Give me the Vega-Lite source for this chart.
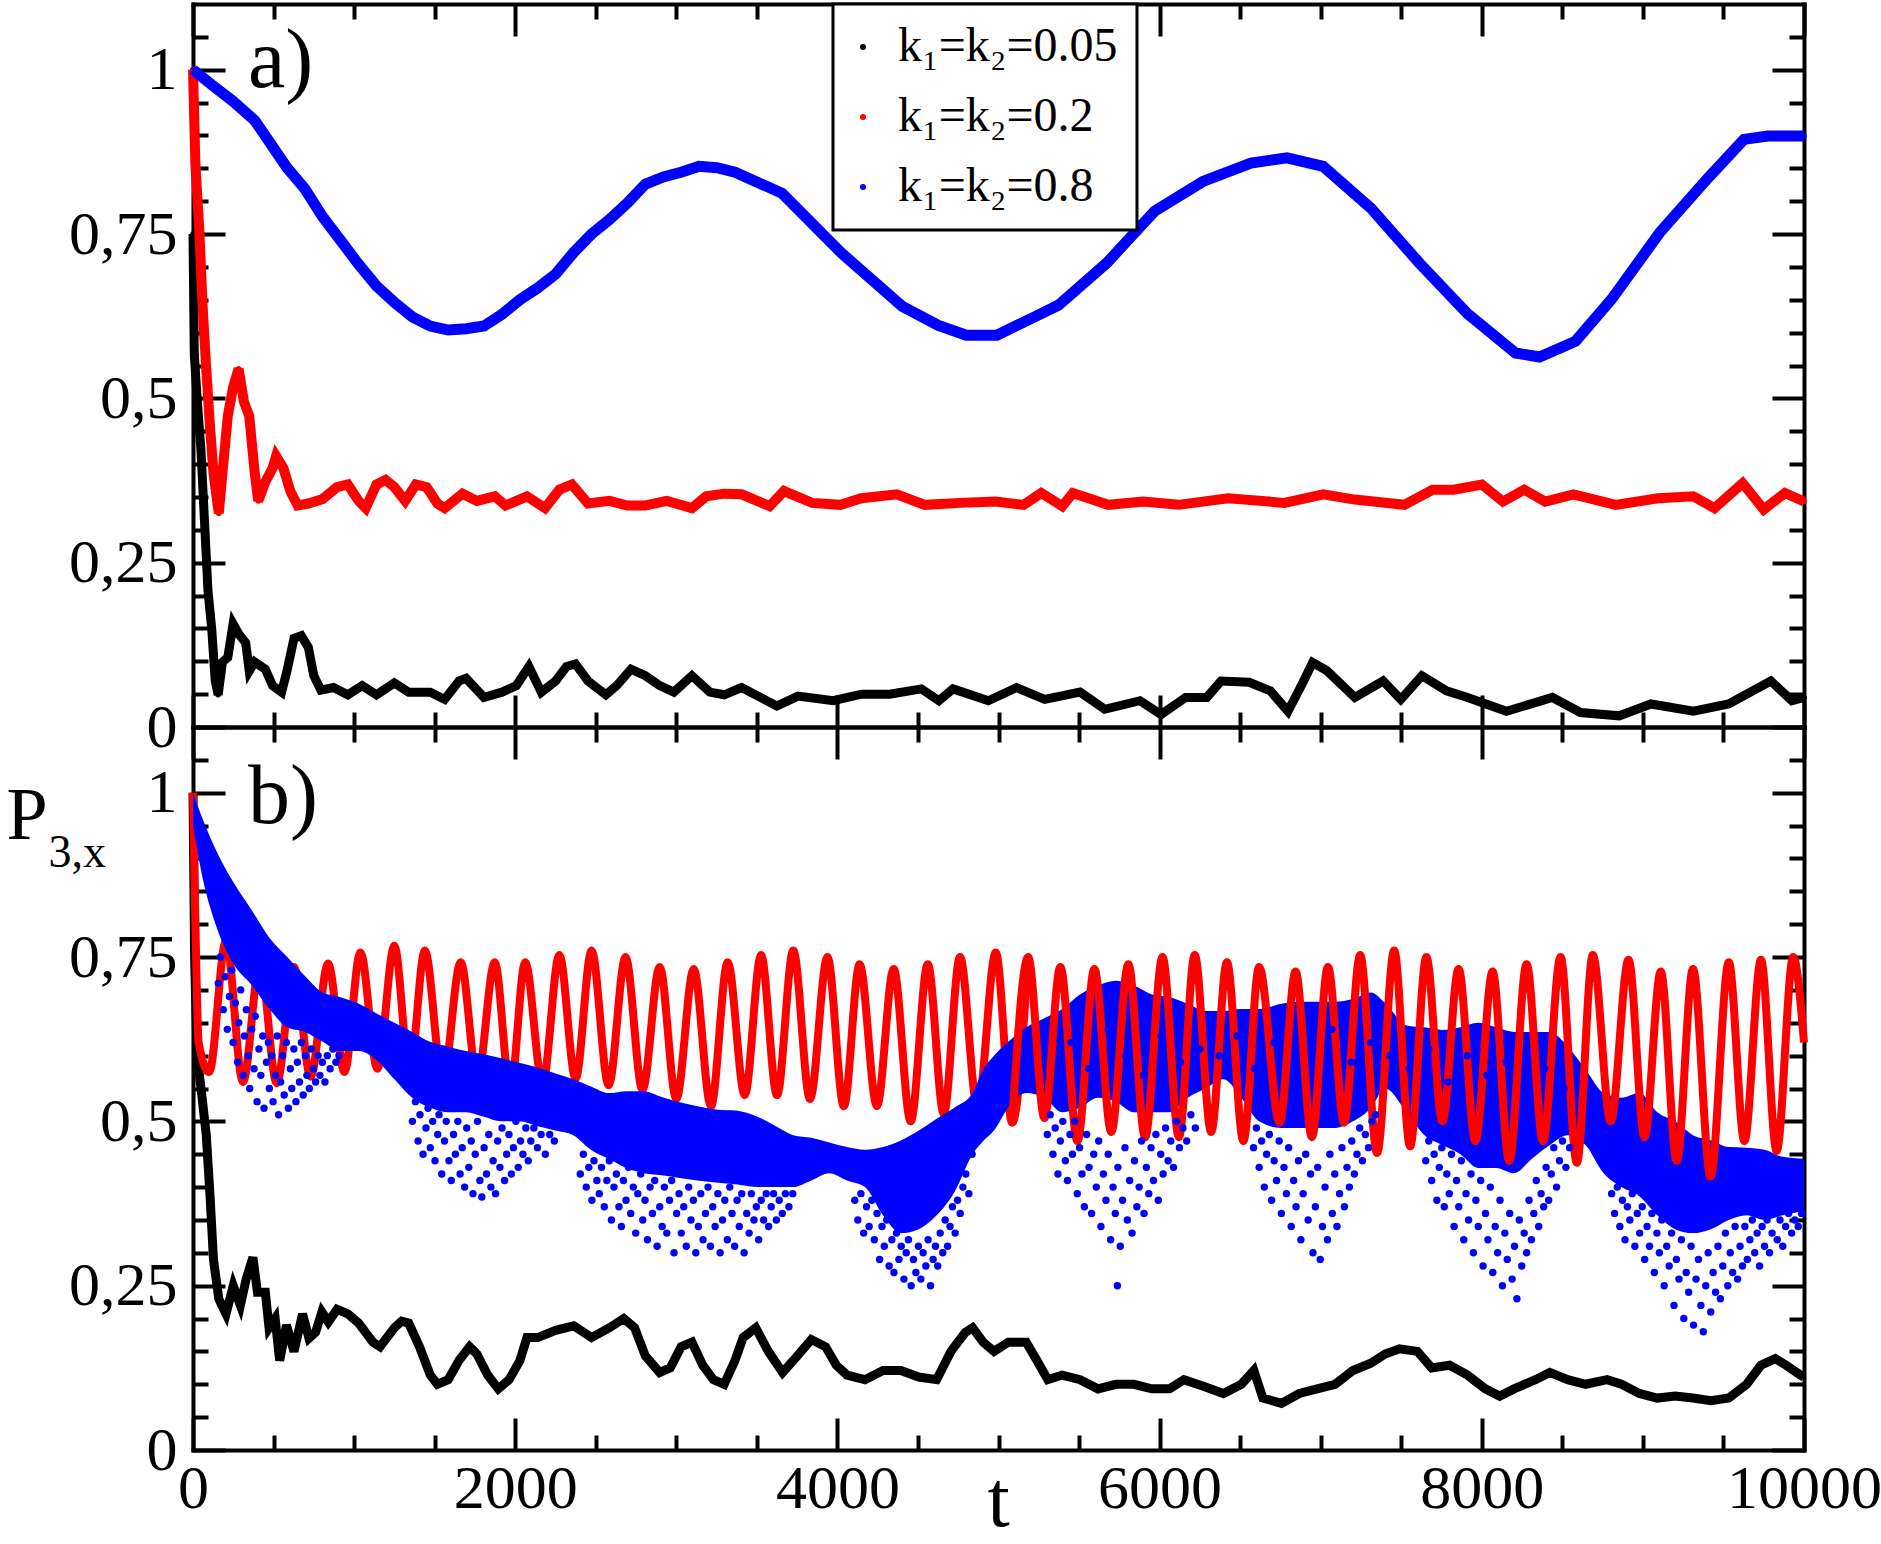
{
  "$schema": "https://vega.github.io/schema/vega-lite/v6.json",
  "padding": {"left": 6, "top": 2, "right": 5, "bottom": 0},
  "spacing": 0,
  "bounds": "flush",
  "resolve": {"scale": {"color": "independent"}},
  "config": {
    "font": "Liberation Serif",
    "view": {"stroke": null},
    "axis": {
      "domainColor": "#000000", "domainWidth": 4, "domainCap": "square",
      "tickColor": "#000000", "tickWidth": 4,
      "labelFont": "Liberation Serif", "labelFontSize": 62, "labelColor": "#000000",
      "titleFont": "Liberation Serif", "titleColor": "#000000", "titleFontWeight": "normal",
      "grid": false, "labelOverlap": false, "labelFlush": false, "labelBound": false, "zindex": 1
    },
    "legend": {"strokeWidth": 3}
  },
  "datasets": {
    "a": [
      {"t":0,"y":0.75,"s":"0.05"},{"t":8,"y":0.567,"s":"0.05"},{"t":27,"y":0.495,"s":"0.05"},{"t":49,"y":0.423,"s":"0.05"},{"t":71,"y":0.315,"s":"0.05"},{"t":93,"y":0.207,"s":"0.05"},{"t":116,"y":0.15,"s":"0.05"},{"t":138,"y":0.07,"s":"0.05"},{"t":156,"y":0.049,"s":"0.05"},{"t":183,"y":0.099,"s":"0.05"},{"t":216,"y":0.106,"s":"0.05"},{"t":249,"y":0.157,"s":"0.05"},{"t":283,"y":0.142,"s":"0.05"},{"t":327,"y":0.128,"s":"0.05"},{"t":349,"y":0.085,"s":"0.05"},{"t":383,"y":0.099,"s":"0.05"},{"t":449,"y":0.088,"s":"0.05"},{"t":494,"y":0.063,"s":"0.05"},{"t":550,"y":0.053,"s":"0.05"},{"t":583,"y":0.085,"s":"0.05"},{"t":627,"y":0.135,"s":"0.05"},{"t":672,"y":0.139,"s":"0.05"},{"t":716,"y":0.121,"s":"0.05"},{"t":750,"y":0.078,"s":"0.05"},{"t":794,"y":0.056,"s":"0.05"},{"t":872,"y":0.06,"s":"0.05"},{"t":961,"y":0.049,"s":"0.05"},{"t":1050,"y":0.063,"s":"0.05"},{"t":1139,"y":0.049,"s":"0.05"},{"t":1250,"y":0.067,"s":"0.05"},{"t":1339,"y":0.053,"s":"0.05"},{"t":1473,"y":0.053,"s":"0.05"},{"t":1562,"y":0.042,"s":"0.05"},{"t":1651,"y":0.07,"s":"0.05"},{"t":1695,"y":0.074,"s":"0.05"},{"t":1806,"y":0.045,"s":"0.05"},{"t":1918,"y":0.053,"s":"0.05"},{"t":2007,"y":0.063,"s":"0.05"},{"t":2085,"y":0.092,"s":"0.05"},{"t":2162,"y":0.053,"s":"0.05"},{"t":2251,"y":0.07,"s":"0.05"},{"t":2318,"y":0.092,"s":"0.05"},{"t":2374,"y":0.096,"s":"0.05"},{"t":2452,"y":0.07,"s":"0.05"},{"t":2563,"y":0.049,"s":"0.05"},{"t":2630,"y":0.063,"s":"0.05"},{"t":2719,"y":0.088,"s":"0.05"},{"t":2808,"y":0.078,"s":"0.05"},{"t":2897,"y":0.063,"s":"0.05"},{"t":2985,"y":0.053,"s":"0.05"},{"t":3097,"y":0.078,"s":"0.05"},{"t":3208,"y":0.053,"s":"0.05"},{"t":3297,"y":0.049,"s":"0.05"},{"t":3405,"y":0.06,"s":"0.05"},{"t":3624,"y":0.032,"s":"0.05"},{"t":3755,"y":0.047,"s":"0.05"},{"t":3974,"y":0.04,"s":"0.05"},{"t":4149,"y":0.05,"s":"0.05"},{"t":4324,"y":0.05,"s":"0.05"},{"t":4521,"y":0.058,"s":"0.05"},{"t":4630,"y":0.04,"s":"0.05"},{"t":4718,"y":0.058,"s":"0.05"},{"t":4937,"y":0.04,"s":"0.05"},{"t":5112,"y":0.06,"s":"0.05"},{"t":5287,"y":0.042,"s":"0.05"},{"t":5506,"y":0.053,"s":"0.05"},{"t":5659,"y":0.027,"s":"0.05"},{"t":5878,"y":0.04,"s":"0.05"},{"t":6009,"y":0.019,"s":"0.05"},{"t":6162,"y":0.045,"s":"0.05"},{"t":6293,"y":0.045,"s":"0.05"},{"t":6381,"y":0.07,"s":"0.05"},{"t":6556,"y":0.068,"s":"0.05"},{"t":6687,"y":0.055,"s":"0.05"},{"t":6797,"y":0.024,"s":"0.05"},{"t":6884,"y":0.065,"s":"0.05"},{"t":6950,"y":0.098,"s":"0.05"},{"t":7037,"y":0.086,"s":"0.05"},{"t":7212,"y":0.045,"s":"0.05"},{"t":7387,"y":0.07,"s":"0.05"},{"t":7497,"y":0.042,"s":"0.05"},{"t":7628,"y":0.078,"s":"0.05"},{"t":7781,"y":0.055,"s":"0.05"},{"t":7912,"y":0.045,"s":"0.05"},{"t":8153,"y":0.024,"s":"0.05"},{"t":8438,"y":0.045,"s":"0.05"},{"t":8613,"y":0.022,"s":"0.05"},{"t":8853,"y":0.017,"s":"0.05"},{"t":9050,"y":0.035,"s":"0.05"},{"t":9313,"y":0.024,"s":"0.05"},{"t":9532,"y":0.035,"s":"0.05"},{"t":9794,"y":0.07,"s":"0.05"},{"t":9925,"y":0.04,"s":"0.05"},{"t":10000,"y":0.045,"s":"0.05"},
      {"t":0,"y":1.0,"s":"0.2"},{"t":15,"y":0.855,"s":"0.2"},{"t":38,"y":0.761,"s":"0.2"},{"t":60,"y":0.639,"s":"0.2"},{"t":82,"y":0.545,"s":"0.2"},{"t":105,"y":0.459,"s":"0.2"},{"t":127,"y":0.387,"s":"0.2"},{"t":160,"y":0.325,"s":"0.2"},{"t":183,"y":0.387,"s":"0.2"},{"t":216,"y":0.473,"s":"0.2"},{"t":249,"y":0.517,"s":"0.2"},{"t":283,"y":0.545,"s":"0.2"},{"t":316,"y":0.495,"s":"0.2"},{"t":349,"y":0.473,"s":"0.2"},{"t":383,"y":0.387,"s":"0.2"},{"t":405,"y":0.344,"s":"0.2"},{"t":449,"y":0.373,"s":"0.2"},{"t":494,"y":0.394,"s":"0.2"},{"t":516,"y":0.412,"s":"0.2"},{"t":561,"y":0.394,"s":"0.2"},{"t":605,"y":0.358,"s":"0.2"},{"t":650,"y":0.337,"s":"0.2"},{"t":716,"y":0.34,"s":"0.2"},{"t":805,"y":0.347,"s":"0.2"},{"t":894,"y":0.365,"s":"0.2"},{"t":961,"y":0.369,"s":"0.2"},{"t":1028,"y":0.344,"s":"0.2"},{"t":1072,"y":0.333,"s":"0.2"},{"t":1139,"y":0.369,"s":"0.2"},{"t":1195,"y":0.376,"s":"0.2"},{"t":1250,"y":0.365,"s":"0.2"},{"t":1317,"y":0.344,"s":"0.2"},{"t":1383,"y":0.369,"s":"0.2"},{"t":1450,"y":0.365,"s":"0.2"},{"t":1517,"y":0.34,"s":"0.2"},{"t":1562,"y":0.333,"s":"0.2"},{"t":1673,"y":0.355,"s":"0.2"},{"t":1762,"y":0.344,"s":"0.2"},{"t":1873,"y":0.351,"s":"0.2"},{"t":1940,"y":0.337,"s":"0.2"},{"t":2073,"y":0.351,"s":"0.2"},{"t":2185,"y":0.333,"s":"0.2"},{"t":2274,"y":0.361,"s":"0.2"},{"t":2352,"y":0.369,"s":"0.2"},{"t":2452,"y":0.34,"s":"0.2"},{"t":2585,"y":0.344,"s":"0.2"},{"t":2696,"y":0.337,"s":"0.2"},{"t":2808,"y":0.337,"s":"0.2"},{"t":2941,"y":0.344,"s":"0.2"},{"t":3097,"y":0.333,"s":"0.2"},{"t":3186,"y":0.351,"s":"0.2"},{"t":3297,"y":0.355,"s":"0.2"},{"t":3405,"y":0.354,"s":"0.2"},{"t":3580,"y":0.336,"s":"0.2"},{"t":3668,"y":0.359,"s":"0.2"},{"t":3843,"y":0.341,"s":"0.2"},{"t":4018,"y":0.338,"s":"0.2"},{"t":4149,"y":0.348,"s":"0.2"},{"t":4368,"y":0.354,"s":"0.2"},{"t":4543,"y":0.338,"s":"0.2"},{"t":4762,"y":0.341,"s":"0.2"},{"t":4981,"y":0.343,"s":"0.2"},{"t":5156,"y":0.338,"s":"0.2"},{"t":5265,"y":0.356,"s":"0.2"},{"t":5396,"y":0.336,"s":"0.2"},{"t":5462,"y":0.356,"s":"0.2"},{"t":5681,"y":0.338,"s":"0.2"},{"t":5900,"y":0.343,"s":"0.2"},{"t":6118,"y":0.338,"s":"0.2"},{"t":6425,"y":0.348,"s":"0.2"},{"t":6775,"y":0.341,"s":"0.2"},{"t":7015,"y":0.354,"s":"0.2"},{"t":7212,"y":0.346,"s":"0.2"},{"t":7519,"y":0.338,"s":"0.2"},{"t":7694,"y":0.361,"s":"0.2"},{"t":7825,"y":0.361,"s":"0.2"},{"t":8000,"y":0.369,"s":"0.2"},{"t":8131,"y":0.343,"s":"0.2"},{"t":8263,"y":0.361,"s":"0.2"},{"t":8394,"y":0.343,"s":"0.2"},{"t":8569,"y":0.354,"s":"0.2"},{"t":8831,"y":0.338,"s":"0.2"},{"t":9094,"y":0.348,"s":"0.2"},{"t":9313,"y":0.351,"s":"0.2"},{"t":9444,"y":0.333,"s":"0.2"},{"t":9619,"y":0.371,"s":"0.2"},{"t":9750,"y":0.331,"s":"0.2"},{"t":9882,"y":0.356,"s":"0.2"},{"t":10000,"y":0.343,"s":"0.2"},
      {"t":0,"y":1.0,"s":"0.8"},{"t":138,"y":0.973,"s":"0.8"},{"t":249,"y":0.952,"s":"0.8"},{"t":383,"y":0.923,"s":"0.8"},{"t":472,"y":0.891,"s":"0.8"},{"t":583,"y":0.851,"s":"0.8"},{"t":694,"y":0.819,"s":"0.8"},{"t":805,"y":0.776,"s":"0.8"},{"t":917,"y":0.74,"s":"0.8"},{"t":1028,"y":0.704,"s":"0.8"},{"t":1139,"y":0.671,"s":"0.8"},{"t":1250,"y":0.646,"s":"0.8"},{"t":1361,"y":0.624,"s":"0.8"},{"t":1473,"y":0.61,"s":"0.8"},{"t":1584,"y":0.604,"s":"0.8"},{"t":1695,"y":0.606,"s":"0.8"},{"t":1806,"y":0.61,"s":"0.8"},{"t":1918,"y":0.628,"s":"0.8"},{"t":2029,"y":0.65,"s":"0.8"},{"t":2140,"y":0.668,"s":"0.8"},{"t":2251,"y":0.689,"s":"0.8"},{"t":2363,"y":0.722,"s":"0.8"},{"t":2474,"y":0.75,"s":"0.8"},{"t":2585,"y":0.772,"s":"0.8"},{"t":2696,"y":0.797,"s":"0.8"},{"t":2808,"y":0.826,"s":"0.8"},{"t":2919,"y":0.837,"s":"0.8"},{"t":3030,"y":0.844,"s":"0.8"},{"t":3141,"y":0.853,"s":"0.8"},{"t":3252,"y":0.851,"s":"0.8"},{"t":3364,"y":0.844,"s":"0.8"},{"t":3657,"y":0.812,"s":"0.8"},{"t":4030,"y":0.72,"s":"0.8"},{"t":4403,"y":0.64,"s":"0.8"},{"t":4627,"y":0.611,"s":"0.8"},{"t":4800,"y":0.596,"s":"0.8"},{"t":4990,"y":0.596,"s":"0.8"},{"t":5224,"y":0.624,"s":"0.8"},{"t":5373,"y":0.642,"s":"0.8"},{"t":5672,"y":0.706,"s":"0.8"},{"t":5970,"y":0.785,"s":"0.8"},{"t":6269,"y":0.83,"s":"0.8"},{"t":6567,"y":0.858,"s":"0.8"},{"t":6791,"y":0.866,"s":"0.8"},{"t":7015,"y":0.853,"s":"0.8"},{"t":7313,"y":0.789,"s":"0.8"},{"t":7612,"y":0.706,"s":"0.8"},{"t":7910,"y":0.629,"s":"0.8"},{"t":8209,"y":0.569,"s":"0.8"},{"t":8358,"y":0.563,"s":"0.8"},{"t":8582,"y":0.587,"s":"0.8"},{"t":8806,"y":0.651,"s":"0.8"},{"t":9104,"y":0.752,"s":"0.8"},{"t":9403,"y":0.835,"s":"0.8"},{"t":9627,"y":0.894,"s":"0.8"},{"t":9776,"y":0.899,"s":"0.8"},{"t":10000,"y":0.899,"s":"0.8"}
    ],
    "bk": [
      {"t":0,"y":1.0},{"t":10,"y":0.75},{"t":25,"y":0.6},{"t":50,"y":0.55},{"t":82,"y":0.48},{"t":105,"y":0.39},{"t":127,"y":0.29},{"t":160,"y":0.23},{"t":205,"y":0.207},{"t":250,"y":0.25},{"t":294,"y":0.22},{"t":330,"y":0.26},{"t":372,"y":0.293},{"t":400,"y":0.24},{"t":449,"y":0.24},{"t":472,"y":0.186},{"t":510,"y":0.2},{"t":538,"y":0.136},{"t":580,"y":0.19},{"t":627,"y":0.15},{"t":680,"y":0.207},{"t":720,"y":0.17},{"t":761,"y":0.179},{"t":800,"y":0.21},{"t":840,"y":0.195},{"t":894,"y":0.214},{"t":961,"y":0.207},{"t":1028,"y":0.193},{"t":1117,"y":0.164},{"t":1161,"y":0.157},{"t":1250,"y":0.186},{"t":1295,"y":0.196},{"t":1339,"y":0.193},{"t":1406,"y":0.157},{"t":1473,"y":0.114},{"t":1517,"y":0.1},{"t":1584,"y":0.107},{"t":1651,"y":0.136},{"t":1717,"y":0.157},{"t":1762,"y":0.146},{"t":1829,"y":0.114},{"t":1895,"y":0.093},{"t":1962,"y":0.107},{"t":2029,"y":0.136},{"t":2073,"y":0.171},{"t":2140,"y":0.171},{"t":2251,"y":0.182},{"t":2363,"y":0.189},{"t":2474,"y":0.171},{"t":2585,"y":0.186},{"t":2674,"y":0.2},{"t":2741,"y":0.186},{"t":2808,"y":0.143},{"t":2897,"y":0.118},{"t":2963,"y":0.125},{"t":3030,"y":0.157},{"t":3097,"y":0.164},{"t":3164,"y":0.129},{"t":3230,"y":0.107},{"t":3297,"y":0.1},{"t":3364,"y":0.136},{"t":3415,"y":0.171},{"t":3493,"y":0.186},{"t":3571,"y":0.15},{"t":3660,"y":0.118},{"t":3726,"y":0.136},{"t":3838,"y":0.168},{"t":3927,"y":0.157},{"t":3993,"y":0.129},{"t":4060,"y":0.114},{"t":4171,"y":0.107},{"t":4283,"y":0.121},{"t":4394,"y":0.121},{"t":4505,"y":0.111},{"t":4616,"y":0.107},{"t":4705,"y":0.15},{"t":4794,"y":0.179},{"t":4839,"y":0.186},{"t":4905,"y":0.164},{"t":4972,"y":0.15},{"t":5061,"y":0.164},{"t":5172,"y":0.164},{"t":5239,"y":0.136},{"t":5306,"y":0.107},{"t":5395,"y":0.114},{"t":5506,"y":0.107},{"t":5617,"y":0.093},{"t":5729,"y":0.1},{"t":5840,"y":0.1},{"t":5951,"y":0.093},{"t":6062,"y":0.093},{"t":6151,"y":0.107},{"t":6285,"y":0.096},{"t":6396,"y":0.086},{"t":6507,"y":0.1},{"t":6585,"y":0.121},{"t":6641,"y":0.079},{"t":6756,"y":0.071},{"t":6867,"y":0.086},{"t":6978,"y":0.093},{"t":7089,"y":0.1},{"t":7200,"y":0.121},{"t":7311,"y":0.132},{"t":7400,"y":0.146},{"t":7489,"y":0.154},{"t":7600,"y":0.15},{"t":7689,"y":0.125},{"t":7800,"y":0.129},{"t":7911,"y":0.114},{"t":8022,"y":0.093},{"t":8111,"y":0.082},{"t":8200,"y":0.093},{"t":8333,"y":0.107},{"t":8422,"y":0.118},{"t":8533,"y":0.107},{"t":8644,"y":0.1},{"t":8778,"y":0.107},{"t":8867,"y":0.1},{"t":8978,"y":0.086},{"t":9089,"y":0.079},{"t":9200,"y":0.082},{"t":9311,"y":0.079},{"t":9422,"y":0.075},{"t":9533,"y":0.079},{"t":9644,"y":0.1},{"t":9733,"y":0.129},{"t":9822,"y":0.139},{"t":9889,"y":0.129},{"t":9978,"y":0.114},{"t":10000,"y":0.111}
    ],
    "br": [
      {"t":0,"y":1.0},{"t":15,"y":0.8},{"t":35,"y":0.62},{"t":100,"y":0.575},{"t":205,"y":0.775},{"t":310,"y":0.56},{"t":416,"y":0.74},{"t":520,"y":0.558},{"t":627,"y":0.735},{"t":730,"y":0.568},{"t":839,"y":0.74},{"t":940,"y":0.575},{"t":1039,"y":0.757},{"t":1145,"y":0.58},{"t":1250,"y":0.767},{"t":1345,"y":0.575},{"t":1439,"y":0.76},{"t":1550,"y":0.562},{"t":1662,"y":0.742},{"t":1765,"y":0.565},{"t":1873,"y":0.742},{"t":1970,"y":0.548},{"t":2062,"y":0.742},{"t":2170,"y":0.558},{"t":2274,"y":0.753},{"t":2375,"y":0.565},{"t":2474,"y":0.76},{"t":2580,"y":0.555},{"t":2685,"y":0.75},{"t":2790,"y":0.548},{"t":2897,"y":0.735},{"t":3000,"y":0.534},{"t":3108,"y":0.732},{"t":3215,"y":0.523},{"t":3319,"y":0.742},{"t":3425,"y":0.54},{"t":3526,"y":0.753},{"t":3625,"y":0.54},{"t":3726,"y":0.76},{"t":3830,"y":0.534},{"t":3938,"y":0.75},{"t":4040,"y":0.523},{"t":4138,"y":0.739},{"t":4245,"y":0.523},{"t":4349,"y":0.732},{"t":4455,"y":0.5},{"t":4561,"y":0.739},{"t":4660,"y":0.512},{"t":4761,"y":0.75},{"t":4870,"y":0.52},{"t":4983,"y":0.757},{"t":5085,"y":0.498},{"t":5184,"y":0.75},{"t":5285,"y":0.505},{"t":5384,"y":0.735},{"t":5490,"y":0.47},{"t":5595,"y":0.732},{"t":5700,"y":0.484},{"t":5806,"y":0.739},{"t":5910,"y":0.476},{"t":6018,"y":0.75},{"t":6120,"y":0.476},{"t":6218,"y":0.753},{"t":6320,"y":0.484},{"t":6418,"y":0.742},{"t":6520,"y":0.47},{"t":6618,"y":0.735},{"t":6745,"y":0.498},{"t":6844,"y":0.728},{"t":6945,"y":0.476},{"t":7045,"y":0.735},{"t":7145,"y":0.498},{"t":7245,"y":0.753},{"t":7350,"y":0.452},{"t":7456,"y":0.76},{"t":7555,"y":0.462},{"t":7656,"y":0.75},{"t":7755,"y":0.5},{"t":7856,"y":0.732},{"t":7960,"y":0.47},{"t":8067,"y":0.728},{"t":8170,"y":0.44},{"t":8278,"y":0.739},{"t":8380,"y":0.47},{"t":8489,"y":0.75},{"t":8590,"y":0.437},{"t":8689,"y":0.753},{"t":8800,"y":0.5},{"t":8911,"y":0.746},{"t":9010,"y":0.476},{"t":9111,"y":0.728},{"t":9210,"y":0.44},{"t":9311,"y":0.732},{"t":9420,"y":0.416},{"t":9533,"y":0.742},{"t":9630,"y":0.47},{"t":9733,"y":0.746},{"t":9830,"y":0.455},{"t":9933,"y":0.75},{"t":10000,"y":0.62}
    ],
    "bc": [
      {"t":0,"lo":0.95,"hi":1.0},{"t":60,"lo":0.87,"hi":0.96},{"t":140,"lo":0.8,"hi":0.914},{"t":250,"lo":0.74,"hi":0.864},{"t":365,"lo":0.707,"hi":0.821},{"t":475,"lo":0.671,"hi":0.779},{"t":585,"lo":0.643,"hi":0.75},{"t":695,"lo":0.636,"hi":0.721},{"t":805,"lo":0.621,"hi":0.696},{"t":915,"lo":0.607,"hi":0.689},{"t":1030,"lo":0.607,"hi":0.679},{"t":1140,"lo":0.593,"hi":0.664},{"t":1250,"lo":0.564,"hi":0.65},{"t":1360,"lo":0.536,"hi":0.636},{"t":1470,"lo":0.521,"hi":0.621},{"t":1580,"lo":0.514,"hi":0.614},{"t":1695,"lo":0.514,"hi":0.607},{"t":1805,"lo":0.507,"hi":0.602},{"t":1915,"lo":0.5,"hi":0.596},{"t":2025,"lo":0.5,"hi":0.589},{"t":2135,"lo":0.493,"hi":0.582},{"t":2250,"lo":0.486,"hi":0.573},{"t":2360,"lo":0.479,"hi":0.564},{"t":2470,"lo":0.457,"hi":0.553},{"t":2580,"lo":0.443,"hi":0.543},{"t":2690,"lo":0.429,"hi":0.546},{"t":2800,"lo":0.421,"hi":0.546},{"t":2910,"lo":0.418,"hi":0.537},{"t":3020,"lo":0.414,"hi":0.529},{"t":3130,"lo":0.41,"hi":0.523},{"t":3245,"lo":0.407,"hi":0.518},{"t":3380,"lo":0.404,"hi":0.516},{"t":3504,"lo":0.4,"hi":0.507},{"t":3615,"lo":0.4,"hi":0.493},{"t":3726,"lo":0.4,"hi":0.479},{"t":3838,"lo":0.41,"hi":0.475},{"t":3949,"lo":0.421,"hi":0.468},{"t":4060,"lo":0.41,"hi":0.461},{"t":4171,"lo":0.4,"hi":0.457},{"t":4283,"lo":0.357,"hi":0.461},{"t":4394,"lo":0.33,"hi":0.471},{"t":4505,"lo":0.336,"hi":0.486},{"t":4616,"lo":0.357,"hi":0.504},{"t":4728,"lo":0.393,"hi":0.521},{"t":4839,"lo":0.45,"hi":0.543},{"t":4905,"lo":0.47,"hi":0.579},{"t":4972,"lo":0.486,"hi":0.6},{"t":5061,"lo":0.521,"hi":0.621},{"t":5172,"lo":0.543,"hi":0.643},{"t":5284,"lo":0.536,"hi":0.657},{"t":5395,"lo":0.514,"hi":0.671},{"t":5506,"lo":0.521,"hi":0.693},{"t":5617,"lo":0.536,"hi":0.707},{"t":5729,"lo":0.53,"hi":0.714},{"t":5840,"lo":0.514,"hi":0.707},{"t":5951,"lo":0.514,"hi":0.693},{"t":6062,"lo":0.514,"hi":0.689},{"t":6174,"lo":0.536,"hi":0.679},{"t":6285,"lo":0.55,"hi":0.668},{"t":6396,"lo":0.564,"hi":0.668},{"t":6507,"lo":0.536,"hi":0.671},{"t":6618,"lo":0.5,"hi":0.671},{"t":6756,"lo":0.49,"hi":0.679},{"t":6867,"lo":0.49,"hi":0.682},{"t":6978,"lo":0.49,"hi":0.682},{"t":7089,"lo":0.49,"hi":0.682},{"t":7200,"lo":0.5,"hi":0.686},{"t":7311,"lo":0.52,"hi":0.696},{"t":7400,"lo":0.55,"hi":0.68},{"t":7533,"lo":0.514,"hi":0.646},{"t":7644,"lo":0.479,"hi":0.643},{"t":7756,"lo":0.464,"hi":0.639},{"t":7867,"lo":0.45,"hi":0.643},{"t":7978,"lo":0.429,"hi":0.65},{"t":8089,"lo":0.429,"hi":0.643},{"t":8200,"lo":0.421,"hi":0.636},{"t":8311,"lo":0.443,"hi":0.636},{"t":8422,"lo":0.464,"hi":0.636},{"t":8533,"lo":0.479,"hi":0.614},{"t":8644,"lo":0.464,"hi":0.579},{"t":8756,"lo":0.421,"hi":0.543},{"t":8867,"lo":0.4,"hi":0.536},{"t":8978,"lo":0.386,"hi":0.543},{"t":9089,"lo":0.357,"hi":0.514},{"t":9200,"lo":0.336,"hi":0.5},{"t":9311,"lo":0.33,"hi":0.479},{"t":9422,"lo":0.336,"hi":0.471},{"t":9533,"lo":0.35,"hi":0.461},{"t":9644,"lo":0.357,"hi":0.46},{"t":9756,"lo":0.35,"hi":0.457},{"t":9867,"lo":0.357,"hi":0.446},{"t":10000,"lo":0.364,"hi":0.443}
    ],
    "bd": [
      {"t":157,"y":0.71},{"t":171,"y":0.75},{"t":188,"y":0.67},{"t":199,"y":0.72},{"t":213,"y":0.64},{"t":226,"y":0.69},{"t":241,"y":0.73},{"t":249,"y":0.62},{"t":263,"y":0.68},{"t":277,"y":0.59},{"t":284,"y":0.65},{"t":296,"y":0.7},{"t":311,"y":0.57},{"t":319,"y":0.63},{"t":331,"y":0.67},{"t":343,"y":0.6},{"t":352,"y":0.55},{"t":364,"y":0.64},{"t":379,"y":0.58},{"t":386,"y":0.66},{"t":398,"y":0.53},{"t":409,"y":0.61},{"t":421,"y":0.57},{"t":433,"y":0.63},{"t":441,"y":0.52},{"t":456,"y":0.59},{"t":468,"y":0.62},{"t":474,"y":0.55},{"t":489,"y":0.6},{"t":497,"y":0.53},{"t":512,"y":0.57},{"t":523,"y":0.63},{"t":531,"y":0.51},{"t":544,"y":0.56},{"t":557,"y":0.6},{"t":566,"y":0.54},{"t":579,"y":0.62},{"t":592,"y":0.52},{"t":604,"y":0.58},{"t":613,"y":0.55},{"t":626,"y":0.61},{"t":639,"y":0.53},{"t":648,"y":0.59},{"t":661,"y":0.56},{"t":673,"y":0.62},{"t":684,"y":0.54},{"t":698,"y":0.6},{"t":707,"y":0.57},{"t":722,"y":0.55},{"t":734,"y":0.61},{"t":749,"y":0.58},{"t":761,"y":0.56},{"t":776,"y":0.6},{"t":788,"y":0.57},{"t":803,"y":0.59},{"t":819,"y":0.56},{"t":834,"y":0.6},{"t":851,"y":0.58},{"t":868,"y":0.61},{"t":887,"y":0.59},{"t":906,"y":0.6},
      {"t":1362,"y":0.5},{"t":1381,"y":0.53},{"t":1397,"y":0.47},{"t":1409,"y":0.51},{"t":1428,"y":0.45},{"t":1446,"y":0.49},{"t":1459,"y":0.52},{"t":1473,"y":0.46},{"t":1488,"y":0.5},{"t":1502,"y":0.44},{"t":1519,"y":0.48},{"t":1527,"y":0.51},{"t":1544,"y":0.42},{"t":1561,"y":0.47},{"t":1572,"y":0.5},{"t":1589,"y":0.44},{"t":1603,"y":0.41},{"t":1617,"y":0.48},{"t":1629,"y":0.45},{"t":1644,"y":0.5},{"t":1658,"y":0.42},{"t":1671,"y":0.46},{"t":1686,"y":0.4},{"t":1699,"y":0.49},{"t":1712,"y":0.43},{"t":1727,"y":0.47},{"t":1738,"y":0.39},{"t":1752,"y":0.45},{"t":1766,"y":0.5},{"t":1781,"y":0.41},{"t":1793,"y":0.385},{"t":1807,"y":0.46},{"t":1822,"y":0.42},{"t":1836,"y":0.48},{"t":1849,"y":0.4},{"t":1863,"y":0.44},{"t":1878,"y":0.39},{"t":1891,"y":0.47},{"t":1905,"y":0.43},{"t":1918,"y":0.49},{"t":1934,"y":0.41},{"t":1947,"y":0.45},{"t":1961,"y":0.48},{"t":1976,"y":0.42},{"t":1989,"y":0.46},{"t":2004,"y":0.5},{"t":2019,"y":0.43},{"t":2033,"y":0.47},{"t":2048,"y":0.45},{"t":2066,"y":0.49},{"t":2081,"y":0.44},{"t":2097,"y":0.47},{"t":2116,"y":0.49},{"t":2138,"y":0.46},{"t":2161,"y":0.48},{"t":2187,"y":0.45},{"t":2214,"y":0.48},{"t":2243,"y":0.47},
      {"t":2404,"y":0.42},{"t":2423,"y":0.45},{"t":2441,"y":0.4},{"t":2457,"y":0.43},{"t":2476,"y":0.38},{"t":2489,"y":0.44},{"t":2507,"y":0.41},{"t":2522,"y":0.39},{"t":2536,"y":0.43},{"t":2553,"y":0.37},{"t":2569,"y":0.41},{"t":2584,"y":0.44},{"t":2597,"y":0.35},{"t":2613,"y":0.4},{"t":2628,"y":0.42},{"t":2644,"y":0.37},{"t":2659,"y":0.34},{"t":2672,"y":0.41},{"t":2688,"y":0.38},{"t":2703,"y":0.43},{"t":2717,"y":0.36},{"t":2733,"y":0.4},{"t":2748,"y":0.33},{"t":2761,"y":0.39},{"t":2779,"y":0.42},{"t":2792,"y":0.35},{"t":2806,"y":0.38},{"t":2821,"y":0.32},{"t":2837,"y":0.4},{"t":2852,"y":0.36},{"t":2866,"y":0.41},{"t":2881,"y":0.31},{"t":2897,"y":0.37},{"t":2912,"y":0.34},{"t":2926,"y":0.4},{"t":2941,"y":0.33},{"t":2958,"y":0.38},{"t":2971,"y":0.41},{"t":2986,"y":0.3},{"t":3002,"y":0.36},{"t":3017,"y":0.39},{"t":3031,"y":0.33},{"t":3046,"y":0.37},{"t":3062,"y":0.31},{"t":3077,"y":0.4},{"t":3091,"y":0.35},{"t":3106,"y":0.38},{"t":3121,"y":0.3},{"t":3137,"y":0.34},{"t":3152,"y":0.39},{"t":3166,"y":0.32},{"t":3181,"y":0.36},{"t":3197,"y":0.4},{"t":3212,"y":0.31},{"t":3226,"y":0.37},{"t":3241,"y":0.34},{"t":3258,"y":0.39},{"t":3272,"y":0.3},{"t":3287,"y":0.35},{"t":3301,"y":0.38},{"t":3317,"y":0.32},{"t":3332,"y":0.4},{"t":3346,"y":0.36},{"t":3362,"y":0.31},{"t":3377,"y":0.38},{"t":3391,"y":0.34},{"t":3406,"y":0.39},{"t":3421,"y":0.3},{"t":3437,"y":0.36},{"t":3452,"y":0.33},{"t":3466,"y":0.39},{"t":3482,"y":0.35},{"t":3497,"y":0.37},{"t":3511,"y":0.32},{"t":3527,"y":0.38},{"t":3542,"y":0.35},{"t":3558,"y":0.39},{"t":3573,"y":0.34},{"t":3589,"y":0.37},{"t":3604,"y":0.39},{"t":3621,"y":0.35},{"t":3639,"y":0.38},{"t":3658,"y":0.36},{"t":3677,"y":0.39},{"t":3699,"y":0.37},{"t":3723,"y":0.39},
      {"t":4108,"y":0.38},{"t":4127,"y":0.35},{"t":4146,"y":0.39},{"t":4163,"y":0.33},{"t":4181,"y":0.37},{"t":4197,"y":0.34},{"t":4214,"y":0.38},{"t":4229,"y":0.32},{"t":4246,"y":0.36},{"t":4262,"y":0.29},{"t":4277,"y":0.34},{"t":4291,"y":0.31},{"t":4306,"y":0.35},{"t":4321,"y":0.28},{"t":4338,"y":0.32},{"t":4351,"y":0.27},{"t":4367,"y":0.33},{"t":4382,"y":0.29},{"t":4396,"y":0.31},{"t":4413,"y":0.26},{"t":4427,"y":0.3},{"t":4441,"y":0.32},{"t":4458,"y":0.25},{"t":4472,"y":0.29},{"t":4487,"y":0.27},{"t":4503,"y":0.31},{"t":4518,"y":0.26},{"t":4532,"y":0.3},{"t":4549,"y":0.28},{"t":4563,"y":0.32},{"t":4578,"y":0.25},{"t":4594,"y":0.29},{"t":4609,"y":0.31},{"t":4623,"y":0.28},{"t":4638,"y":0.33},{"t":4654,"y":0.3},{"t":4669,"y":0.35},{"t":4684,"y":0.31},{"t":4699,"y":0.34},{"t":4714,"y":0.37},{"t":4731,"y":0.33},{"t":4746,"y":0.38},{"t":4762,"y":0.36},{"t":4779,"y":0.4},{"t":4797,"y":0.42},{"t":4816,"y":0.39},{"t":4836,"y":0.45},
      {"t":5303,"y":0.48},{"t":5321,"y":0.51},{"t":5338,"y":0.45},{"t":5352,"y":0.49},{"t":5369,"y":0.42},{"t":5384,"y":0.47},{"t":5399,"y":0.5},{"t":5415,"y":0.44},{"t":5428,"y":0.41},{"t":5444,"y":0.48},{"t":5459,"y":0.45},{"t":5473,"y":0.5},{"t":5489,"y":0.39},{"t":5503,"y":0.46},{"t":5518,"y":0.42},{"t":5533,"y":0.37},{"t":5547,"y":0.48},{"t":5562,"y":0.43},{"t":5578,"y":0.36},{"t":5591,"y":0.45},{"t":5607,"y":0.4},{"t":5622,"y":0.47},{"t":5636,"y":0.34},{"t":5651,"y":0.42},{"t":5667,"y":0.38},{"t":5681,"y":0.45},{"t":5696,"y":0.32},{"t":5711,"y":0.4},{"t":5725,"y":0.36},{"t":5741,"y":0.43},{"t":5738,"y":0.25},{"t":5756,"y":0.31},{"t":5770,"y":0.38},{"t":5785,"y":0.46},{"t":5800,"y":0.35},{"t":5814,"y":0.41},{"t":5829,"y":0.33},{"t":5844,"y":0.44},{"t":5859,"y":0.37},{"t":5873,"y":0.4},{"t":5888,"y":0.47},{"t":5903,"y":0.36},{"t":5918,"y":0.43},{"t":5933,"y":0.39},{"t":5947,"y":0.46},{"t":5962,"y":0.41},{"t":5977,"y":0.48},{"t":5992,"y":0.38},{"t":6007,"y":0.45},{"t":6022,"y":0.42},{"t":6037,"y":0.49},{"t":6053,"y":0.44},{"t":6069,"y":0.47},{"t":6086,"y":0.43},{"t":6104,"y":0.5},{"t":6123,"y":0.46},{"t":6145,"y":0.49},{"t":6168,"y":0.47},{"t":6194,"y":0.51},{"t":6222,"y":0.49},
      {"t":6583,"y":0.46},{"t":6601,"y":0.49},{"t":6618,"y":0.43},{"t":6633,"y":0.47},{"t":6650,"y":0.4},{"t":6664,"y":0.45},{"t":6681,"y":0.48},{"t":6695,"y":0.38},{"t":6711,"y":0.44},{"t":6726,"y":0.41},{"t":6742,"y":0.47},{"t":6756,"y":0.36},{"t":6772,"y":0.43},{"t":6787,"y":0.39},{"t":6801,"y":0.46},{"t":6817,"y":0.34},{"t":6832,"y":0.41},{"t":6847,"y":0.37},{"t":6862,"y":0.44},{"t":6877,"y":0.32},{"t":6891,"y":0.39},{"t":6907,"y":0.45},{"t":6922,"y":0.35},{"t":6937,"y":0.42},{"t":6952,"y":0.3},{"t":6967,"y":0.37},{"t":6981,"y":0.43},{"t":6997,"y":0.29},{"t":7011,"y":0.34},{"t":7027,"y":0.4},{"t":7042,"y":0.32},{"t":7057,"y":0.45},{"t":7072,"y":0.36},{"t":7087,"y":0.42},{"t":7101,"y":0.34},{"t":7117,"y":0.39},{"t":7132,"y":0.46},{"t":7147,"y":0.37},{"t":7163,"y":0.43},{"t":7178,"y":0.4},{"t":7193,"y":0.47},{"t":7209,"y":0.42},{"t":7225,"y":0.45},{"t":7242,"y":0.49},{"t":7259,"y":0.44},{"t":7277,"y":0.48},{"t":7297,"y":0.46},{"t":7318,"y":0.5},{"t":7340,"y":0.51},
      {"t":7652,"y":0.44},{"t":7671,"y":0.47},{"t":7689,"y":0.41},{"t":7704,"y":0.45},{"t":7721,"y":0.38},{"t":7736,"y":0.43},{"t":7752,"y":0.46},{"t":7767,"y":0.37},{"t":7783,"y":0.42},{"t":7798,"y":0.39},{"t":7812,"y":0.45},{"t":7828,"y":0.34},{"t":7843,"y":0.41},{"t":7857,"y":0.37},{"t":7873,"y":0.44},{"t":7888,"y":0.32},{"t":7902,"y":0.39},{"t":7918,"y":0.35},{"t":7933,"y":0.42},{"t":7948,"y":0.3},{"t":7963,"y":0.38},{"t":7978,"y":0.34},{"t":7993,"y":0.41},{"t":8008,"y":0.28},{"t":8023,"y":0.36},{"t":8038,"y":0.32},{"t":8053,"y":0.4},{"t":8068,"y":0.27},{"t":8083,"y":0.34},{"t":8098,"y":0.3},{"t":8113,"y":0.38},{"t":8128,"y":0.25},{"t":8143,"y":0.33},{"t":8158,"y":0.29},{"t":8173,"y":0.36},{"t":8188,"y":0.26},{"t":8203,"y":0.31},{"t":8218,"y":0.23},{"t":8233,"y":0.35},{"t":8248,"y":0.28},{"t":8263,"y":0.33},{"t":8278,"y":0.3},{"t":8293,"y":0.38},{"t":8308,"y":0.32},{"t":8323,"y":0.36},{"t":8338,"y":0.41},{"t":8353,"y":0.34},{"t":8368,"y":0.39},{"t":8384,"y":0.37},{"t":8399,"y":0.43},{"t":8415,"y":0.38},{"t":8431,"y":0.42},{"t":8447,"y":0.46},{"t":8464,"y":0.4},{"t":8482,"y":0.44},{"t":8501,"y":0.47},{"t":8522,"y":0.43},{"t":8545,"y":0.46},
      {"t":8806,"y":0.39},{"t":8824,"y":0.36},{"t":8841,"y":0.4},{"t":8857,"y":0.34},{"t":8873,"y":0.38},{"t":8889,"y":0.32},{"t":8904,"y":0.37},{"t":8919,"y":0.35},{"t":8934,"y":0.39},{"t":8950,"y":0.31},{"t":8965,"y":0.36},{"t":8980,"y":0.33},{"t":8996,"y":0.37},{"t":9011,"y":0.29},{"t":9026,"y":0.34},{"t":9041,"y":0.31},{"t":9056,"y":0.36},{"t":9071,"y":0.27},{"t":9087,"y":0.33},{"t":9102,"y":0.3},{"t":9117,"y":0.35},{"t":9132,"y":0.25},{"t":9148,"y":0.31},{"t":9163,"y":0.28},{"t":9178,"y":0.33},{"t":9193,"y":0.22},{"t":9208,"y":0.29},{"t":9224,"y":0.26},{"t":9239,"y":0.32},{"t":9254,"y":0.2},{"t":9269,"y":0.27},{"t":9284,"y":0.24},{"t":9299,"y":0.31},{"t":9314,"y":0.19},{"t":9330,"y":0.26},{"t":9345,"y":0.29},{"t":9360,"y":0.22},{"t":9375,"y":0.18},{"t":9390,"y":0.25},{"t":9405,"y":0.3},{"t":9421,"y":0.21},{"t":9436,"y":0.27},{"t":9451,"y":0.24},{"t":9466,"y":0.31},{"t":9481,"y":0.23},{"t":9496,"y":0.28},{"t":9512,"y":0.33},{"t":9527,"y":0.25},{"t":9542,"y":0.3},{"t":9557,"y":0.27},{"t":9572,"y":0.34},{"t":9588,"y":0.26},{"t":9603,"y":0.31},{"t":9618,"y":0.28},{"t":9633,"y":0.34},{"t":9648,"y":0.29},{"t":9664,"y":0.32},{"t":9679,"y":0.35},{"t":9694,"y":0.3},{"t":9709,"y":0.33},{"t":9724,"y":0.28},{"t":9740,"y":0.34},{"t":9755,"y":0.31},{"t":9771,"y":0.35},{"t":9786,"y":0.3},{"t":9802,"y":0.33},{"t":9818,"y":0.36},{"t":9834,"y":0.32},{"t":9851,"y":0.35},{"t":9868,"y":0.31},{"t":9886,"y":0.34},{"t":9904,"y":0.36},{"t":9923,"y":0.33},{"t":9943,"y":0.35},{"t":9964,"y":0.34},{"t":9985,"y":0.36},
      {"t":5450,"y":0.62},{"t":5560,"y":0.58},{"t":5680,"y":0.64},{"t":5790,"y":0.6},{"t":5900,"y":0.57},{"t":6010,"y":0.63},{"t":6130,"y":0.59},{"t":6250,"y":0.61},{"t":6370,"y":0.6},{"t":6480,"y":0.63},{"t":6590,"y":0.58},{"t":6710,"y":0.62},{"t":6830,"y":0.57},{"t":6950,"y":0.61},{"t":7070,"y":0.64},{"t":7190,"y":0.59},{"t":7310,"y":0.62},{"t":7430,"y":0.6},{"t":7550,"y":0.58},{"t":7670,"y":0.61},{"t":7790,"y":0.56},{"t":7910,"y":0.6},{"t":8030,"y":0.57},{"t":8150,"y":0.59},{"t":8270,"y":0.55},{"t":8390,"y":0.58},{"t":8510,"y":0.55}
    ]
  },
  "vconcat": [
    {
      "width": 1611,
      "height": 723,
      "layer": [
        {
          "data": {"name": "a"},
          "mark": {"type": "point", "filled": true, "shape": "circle", "size": 30, "opacity": 1},
          "encoding": {
            "x": {"field": "t", "type": "quantitative", "scale": {"domain": [0, 10000], "nice": false},
              "axis": {"orient": "bottom", "values": [0,500,1000,1500,2000,2500,3000,3500,4000,4500,5000,5500,6000,6500,7000,7500,8000,8500,9000,9500,10000], "labels": false, "title": null,
                "tickSize": {"condition": {"test": "datum.value % 2000 === 0", "value": -32}, "value": -15}}},
            "y": {"field": "y", "type": "quantitative", "scale": {"domain": [0, 1.1], "nice": false, "zero": false},
              "axis": {"orient": "left", "values": [0,0.05,0.1,0.15,0.2,0.25,0.3,0.35,0.4,0.45,0.5,0.55,0.6,0.65,0.7,0.75,0.8,0.85,0.9,0.95,1,1.05], "title": null,
                "labelExpr": "round(datum.value*100) % 25 === 0 ? replace('' + datum.value, '.', ',') : ''", "labelPadding": 48,
                "tickSize": {"condition": {"test": "round(datum.value*100) % 25 === 0", "value": -32}, "value": -15}}},
            "color": {"field": "s", "type": "nominal",
              "scale": {"domain": ["0.05", "0.2", "0.8"], "range": ["#000000", "#ff0000", "#0000ff"]},
              "legend": {"orient": "none", "legendX": 640, "legendY": 0, "title": null,
                "labelExpr": "'k₁=k₂=' + datum.label", "labelFont": "Liberation Serif", "labelFontSize": 48, "labelColor": "#000000", "labelLimit": 600,
                "symbolType": "circle", "symbolSize": 36, "symbolStrokeWidth": 0, "symbolOffset": -13,
                "padding": 19, "rowPadding": 22, "labelOffset": 11,
                "strokeColor": "#000000", "fillColor": "#ffffff"}}
          }
        },
        {
          "data": {"name": "a"},
          "mark": {"type": "line"},
          "encoding": {
            "x": {"field": "t", "type": "quantitative", "axis": null},
            "y": {"field": "y", "type": "quantitative", "axis": null},
            "color": {"field": "s", "type": "nominal", "legend": null},
            "strokeWidth": {"field": "s", "type": "nominal", "legend": null, "scale": {"domain": ["0.05", "0.2", "0.8"], "range": [9, 11, 10]}}
          }
        },
        {
          "data": {"values": [{}]},
          "mark": {"type": "text", "text": "a)", "fontSize": 84, "align": "left", "baseline": "alphabetic", "font": "Liberation Serif", "color": "#000000"},
          "encoding": {
            "x": {"datum": 341, "type": "quantitative",
              "axis": {"orient": "top", "values": [0,500,1000,1500,2000,2500,3000,3500,4000,4500,5000,5500,6000,6500,7000,7500,8000,8500,9000,9500,10000], "labels": false, "title": null,
                "tickSize": {"condition": {"test": "datum.value % 2000 === 0", "value": -32}, "value": -15}}},
            "y": {"datum": 0.973, "type": "quantitative",
              "axis": {"orient": "right", "values": [0,0.05,0.1,0.15,0.2,0.25,0.3,0.35,0.4,0.45,0.5,0.55,0.6,0.65,0.7,0.75,0.8,0.85,0.9,0.95,1,1.05], "labels": false, "title": null,
                "tickSize": {"condition": {"test": "round(datum.value*100) % 25 === 0", "value": -32}, "value": -15}}}
          }
        }
      ],
      "resolve": {"axis": {"x": "independent", "y": "independent"}}
    },
    {
      "width": 1611,
      "height": 723,
      "layer": [
        {
          "data": {"name": "bk"},
          "mark": {"type": "line", "strokeWidth": 9, "color": "#000000"},
          "encoding": {
            "x": {"field": "t", "type": "quantitative", "scale": {"domain": [0, 10000], "nice": false},
              "axis": {"orient": "bottom", "values": [0,500,1000,1500,2000,2500,3000,3500,4000,4500,5000,5500,6000,6500,7000,7500,8000,8500,9000,9500,10000],
                "labelExpr": "datum.value % 2000 === 0 ? '' + datum.value : ''", "labelPadding": 40,
                "title": "t", "titleFontSize": 80, "titleX": 805, "titleY": 75, "titleAlign": "center", "titleBaseline": "alphabetic",
                "tickSize": {"condition": {"test": "datum.value % 2000 === 0", "value": -32}, "value": -15}}},
            "y": {"field": "y", "type": "quantitative", "scale": {"domain": [0, 1.1], "nice": false, "zero": false},
              "axis": {"orient": "left", "values": [0,0.05,0.1,0.15,0.2,0.25,0.3,0.35,0.4,0.45,0.5,0.55,0.6,0.65,0.7,0.75,0.8,0.85,0.9,0.95,1,1.05],
                "labelExpr": "round(datum.value*100) % 25 === 0 ? replace('' + datum.value, '.', ',') : ''", "labelPadding": 48,
                "title": "P", "titleAngle": 0, "titleFontSize": 74, "titleX": -187, "titleY": 111, "titleAlign": "left", "titleBaseline": "alphabetic",
                "tickSize": {"condition": {"test": "round(datum.value*100) % 25 === 0", "value": -32}, "value": -15}}}
          }
        },
        {
          "data": {"name": "br"},
          "transform": [{"filter": "datum.t <= 5184"}],
          "mark": {"type": "line", "strokeWidth": 8, "color": "#ff0000", "interpolate": "monotone"},
          "encoding": {
            "x": {"field": "t", "type": "quantitative", "axis": null},
            "y": {"field": "y", "type": "quantitative", "axis": null}
          }
        },
        {
          "data": {"name": "bc"},
          "mark": {"type": "area", "color": "#0000ff", "interpolate": "monotone"},
          "encoding": {
            "x": {"field": "t", "type": "quantitative", "axis": null},
            "y": {"field": "lo", "type": "quantitative", "axis": null},
            "y2": {"field": "hi"}
          }
        },
        {
          "data": {"name": "br"},
          "transform": [{"filter": "datum.t >= 5085"}],
          "mark": {"type": "line", "strokeWidth": 8, "color": "#ff0000", "interpolate": "monotone"},
          "encoding": {
            "x": {"field": "t", "type": "quantitative", "axis": null},
            "y": {"field": "y", "type": "quantitative", "axis": null}
          }
        },
        {
          "data": {"name": "bd"},
          "mark": {"type": "point", "filled": true, "shape": "circle", "size": 55, "color": "#0000ff", "opacity": 1},
          "encoding": {
            "x": {"field": "t", "type": "quantitative", "axis": null},
            "y": {"field": "y", "type": "quantitative", "axis": null}
          }
        },
        {
          "data": {"values": [{}]},
          "mark": {"type": "text", "text": "b)", "fontSize": 84, "align": "left", "baseline": "alphabetic", "font": "Liberation Serif", "color": "#000000"},
          "encoding": {
            "x": {"datum": 341, "type": "quantitative",
              "axis": {"orient": "top", "values": [0,500,1000,1500,2000,2500,3000,3500,4000,4500,5000,5500,6000,6500,7000,7500,8000,8500,9000,9500,10000], "labels": false, "title": null,
                "tickSize": {"condition": {"test": "datum.value % 2000 === 0", "value": -32}, "value": -15}}},
            "y": {"datum": 0.954, "type": "quantitative",
              "axis": {"orient": "right", "values": [0,0.05,0.1,0.15,0.2,0.25,0.3,0.35,0.4,0.45,0.5,0.55,0.6,0.65,0.7,0.75,0.8,0.85,0.9,0.95,1,1.05], "labels": false,
                "title": "3,x", "titleAngle": 0, "titleFontSize": 46, "titleX": -1756, "titleY": 139, "titleAlign": "left", "titleBaseline": "alphabetic",
                "tickSize": {"condition": {"test": "round(datum.value*100) % 25 === 0", "value": -32}, "value": -15}}}
          }
        }
      ],
      "resolve": {"axis": {"x": "independent", "y": "independent"}}
    }
  ]
}
